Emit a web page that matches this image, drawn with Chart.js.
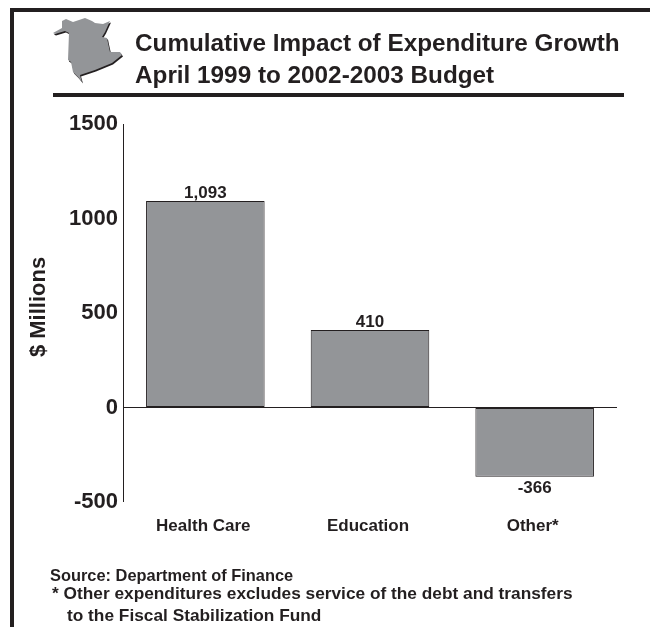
<!DOCTYPE html>
<html>
<head>
<meta charset="utf-8">
<style>
  html, body { margin: 0; padding: 0; background: #fff; }
  body { position: relative; width: 650px; height: 627px; overflow: hidden;
         font-family: "Liberation Sans", Arial, sans-serif; font-weight: bold; color: #231f20; }
  #wrap { position: absolute; left: 0; top: 0; width: 650px; height: 627px; }
  .frame-top { position: absolute; left: 10px; top: 8px; width: 640px; height: 4px; background: #231f20; }
  .frame-left { position: absolute; left: 10px; top: 8px; width: 4px; height: 619px; background: #231f20; }
  .rule { position: absolute; left: 53px; top: 93px; width: 571px; height: 4px; background: #231f20; }
  .title { position: absolute; left: 135px; top: 27px; font-size: 24.3px; line-height: 32px; white-space: nowrap; }
  .note { position: absolute; white-space: nowrap; line-height: 20px; }
  svg { position: absolute; left: 0; top: 0; }
</style>
</head>
<body>
<div id="wrap"><canvas id="chart" width="650" height="627"></canvas></div>
<div class="frame-top"></div>
<div class="frame-left"></div>
<div class="rule"></div>
<svg width="130" height="95" viewBox="0 0 130 95">
  <defs>
    <polygon id="province" points="62,21 66,19 73,22 85,18 92,21 95,23 103,24 110,21 105,32 102,37 107,38 108,43 110,52 120,52 122,55 112,63 95,70 80,75 82,82 78,77 73,72 71,62 68,60 69,33 65,31 55,34 53,33 62,28"/>
  </defs>
  <use href="#province" fill="#231f20" transform="translate(1,1.5)"/>
  <use href="#province" fill="#939598"/>
</svg>
<div class="title">Cumulative Impact of Expenditure Growth<br>April 1999 to 2002-2003 Budget</div>
<div class="note" style="left:50px;top:565px;font-size:16.4px">Source: Department of Finance</div>
<div class="note" style="left:52px;top:583px;font-size:17.3px">* Other expenditures excludes service of the debt and transfers</div>
<div class="note" style="left:67px;top:605px;font-size:17.3px">to the Fiscal Stabilization Fund</div>
<script src="https://cdn.jsdelivr.net/npm/chart.js@4/dist/chart.umd.min.js"></script>
<script>
const categories = ["Health Care", "Education", "Other*"];
const expenditureGrowth = [1093, 410, -366];
const valueLabels = ["1,093", "410", "-366"];
const axisTitle = "  $ Millions";

const ink = "#231f20";
const labelFont = "Liberation Sans";

// Prints the stated figure just past the end of each bar.
const barValueLabels = {
  id: "barValueLabels",
  afterDatasetsDraw(chart) {
    const { ctx } = chart;
    chart.getDatasetMeta(0).data.forEach((bar, i) => {
      ctx.save();
      ctx.fillStyle = ink;
      ctx.font = "bold 17px '" + labelFont + "'";
      ctx.textAlign = "center";
      const up = expenditureGrowth[i] >= 0;
      ctx.textBaseline = up ? "bottom" : "top";
      ctx.fillText(valueLabels[i], bar.x, bar.y + (up ? 1 : 3));
      ctx.restore();
    });
  }
};

new Chart(document.getElementById("chart"), {
  type: "bar",
  data: {
    labels: categories,
    datasets: [{
      data: expenditureGrowth,
      backgroundColor: "#939598",
      borderColor: ink,
      borderWidth: 1,
      borderSkipped: false,
      categoryPercentage: 0.72,
      barPercentage: 1
    }]
  },
  plugins: [barValueLabels],
  options: {
    responsive: false,
    animation: false,
    layout: { padding: { left: 24, right: 33, top: 124, bottom: 76.5 } },
    plugins: { legend: { display: false }, tooltip: { enabled: false } },
    scales: {
      x: {
        grid: { display: false, drawTicks: false },
        border: { display: false },
        ticks: {
          color: ink, padding: 14, maxRotation: 0, labelOffset: -2,
          font: { family: labelFont, size: 17, weight: "bold" }
        }
      },
      y: {
        min: -500, max: 1500,
        afterFit(scale) { scale.width = 99; },
        title: {
          display: true, text: axisTitle, color: ink, padding: { top: 2, bottom: 0 },
          font: { family: labelFont, size: 22, weight: "bold" }
        },
        grid: {
          drawTicks: false,
          lineWidth: c => (c.tick && c.tick.value === 0 ? 1 : 0),
          color: ink
        },
        border: { display: true, color: ink, width: 1 },
        ticks: {
          stepSize: 500, color: ink, padding: 5,
          font: { family: labelFont, size: 22, weight: "bold" },
          callback: v => String(v)
        }
      }
    }
  }
});
</script>
</body>
</html>
